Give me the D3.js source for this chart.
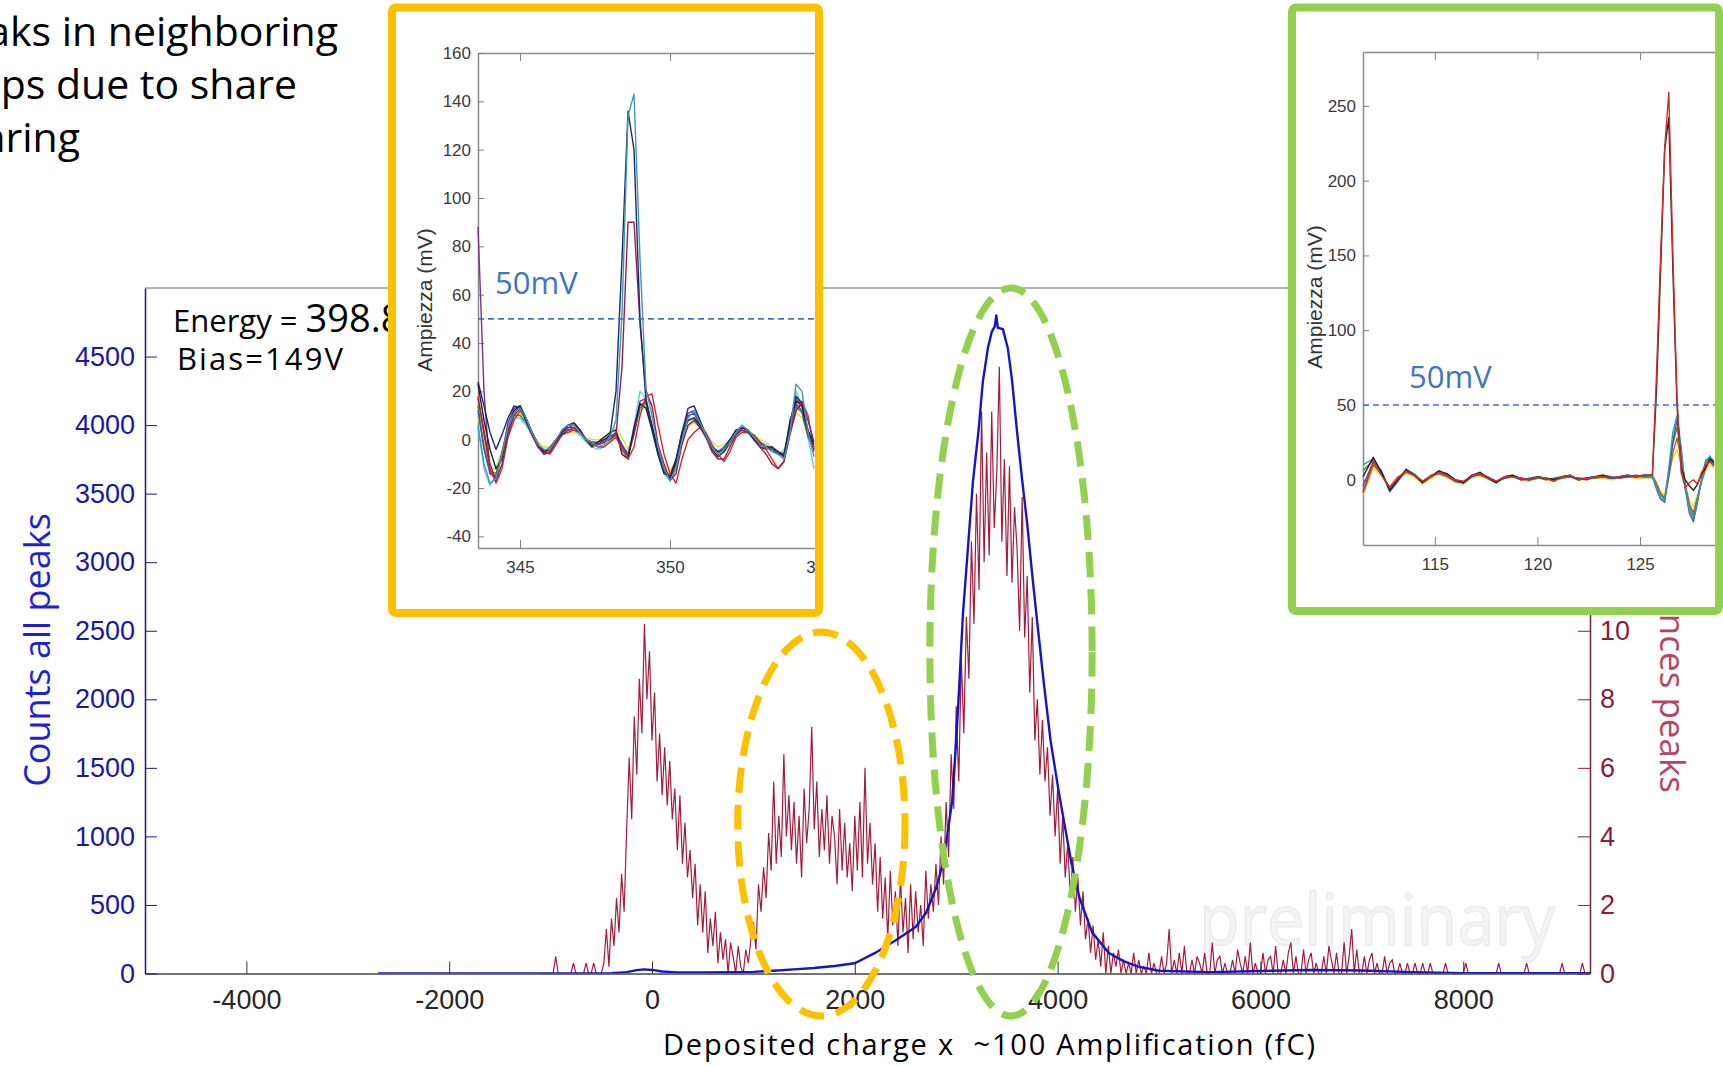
<!DOCTYPE html>
<html>
<head>
<meta charset="utf-8">
<title>Deposited charge spectrum</title>
<script src="https://cdn.jsdelivr.net/npm/d3@7"></script>
<style>
  body { margin: 0; background: #fff; overflow: hidden; }
  svg { display: block; }
</style>
</head>
<body>
<svg class="chart"></svg>
<script>

// ---- main spectrum data ----
var xTicks = [-4000, -2000, 0, 2000, 4000, 6000, 8000];
var leftTicks = [0, 500, 1000, 1500, 2000, 2500, 3000, 3500, 4000, 4500];
var rightTicks = [0, 2, 4, 6, 8, 10];

// blue curve: counts of all peaks (left axis)
var blueX = [-2700,-1000,-400,-250,-150,-80,0,100,250,500, 800,1000,1200,1400,1600,1800,2000,2200,2400,2600,
  2700,2800,2860,2900,2960,3000,3030,3066,3115,3165, 3220,3263,3312,3350,3380,3395,3410,3460,3509,3550,
  3600,3650,3700,3755,3808,3862,3930,4010,4084,4138, 4212,4340,4505,4650,4795,5000,5500,6000,6500,7000,
  7500,8000,9250];
var blueY = [0,0,2,10,25,30,26,15,8,8, 9,12,20,30,40,55,75,150,240,340,
  440,620,780,950,1260,1700,2100,2620,3100,3590, 3960,4320,4560,4680,4720,4800,4710,4700,4560,4330,
  3950,3600,3280,2870,2500,2130,1700,1330,1020,800, 560,300,150,90,50,20,10,18,26,22,
  10,3,2];

// red histogram: occurrences (right axis), bins of 25 starting at -1100
var redStart = -1100, redStep = 25;
var redCounts = [
  0,0,0,0, 0,0,0.5,0, 0,0,0,0, 0,0.3,0,0, 0,0,0.3,0, 0,0.3,0,0,
  0,0.3,1.3,0.2, 1.6,0.8,2.2,1.2, 2.9,1.8,4.2,6.3, 4.5,7.5,5.8,8.6, 7.0,10.2,8.0,9.4,
  6.8,8.2,5.6,7.0, 5.2,6.6,4.9,6.2, 4.5,5.4,3.6,5.2, 3.2,4.4,2.8,3.6, 2.2,3.2,1.4,2.6,
  1.2,2.4,0.6,1.6, 0.8,1.8,0.3,1.2, 0.4,1.0,0,0.9, 0.5,0,0.8,0.2, 0,0.7,0.3,1.0,
  1.5,0.7,2.6,1.8, 3.1,2.2,4.1,3.0, 5.6,3.2,4.6,3.4, 6.4,4.0,5.2,3.6, 5.0,3.2,4.6,2.8,
  5.4,3.8,4.8,7.2, 4.2,5.6,3.4,4.8, 3.6,5.2,3.2,4.6, 4.0,2.6,4.8,3.0, 4.4,2.8,3.8,2.4,
  4.6,3.0,5.0,2.8, 6.0,3.2,4.4,2.6, 3.8,1.8,3.4,1.6, 2.8,1.0,3.0,1.4, 2.4,0.8,2.8,1.2,
  2.2,0.6,2.6,1.0, 2.4,1.2,2.0,0.8, 3.0,1.6,2.6,1.8, 3.2,2.0,4.0,2.6, 5.0,3.4,6.4,4.8,
  7.8,5.6,9.2,7.0, 10.4,8.6,12.6,10.2, 14.0,11.2,16.4,12.0, 15.2,12.2,16.4,13.0, 14.6,17.7,12.6,15.0,
  11.6,14.8,11.4,13.6, 12.4,10.0,13.9,9.8, 11.6,8.2,10.4,6.8, 8.0,5.8,7.4,5.6, 6.6,4.6,5.8,4.0,
  5.4,3.2,4.6,2.8, 3.8,2.2,3.4,1.8, 2.8,1.4,2.4,1.0, 1.6,0.6,1.4,0.4, 1.0,0.2,1.2,0,
  0.8,0,0.6,0.2, 0.7,0,0.4,0, 0.3,0,0.6,0, 0.4,0,0.2,0, 0.6,0,0.3,0,
  0,0.5,0,0.3, 1.3,0,0.4,0, 0.6,0,0.8,0, 0,0.4,0,0.5, 0.3,0,0.6,0,
  0,0.9,0,0.4, 0.5,0,0.3,0, 0,0.4,0,0.7, 0.3,0,0.5,0, 0.9,0,0.3,0,
  0,0.6,0,0.4, 0.5,0,0.8,0, 0,0.4,0,0.6, 0.9,0,0.5,0, 0,0.7,0,0.4,
  0.6,0,0.3,0, 0,0.5,0,0.8, 0.4,0,0.6,0, 0,0.9,0,0.5, 1.3,0,0.7,0,
  0,0.5,0,0.4, 0.6,0,0.3,0, 0,0.5,0,0.3, 0.4,0,0,0.3, 0,0,0.3,0,
  0,0.3,0,0, 0.3,0,0,0.3, 0,0,0,0, 0,0.3,0,0, 0,0,0,0,
  0,0.3,0,0, 0,0,0,0, 0,0,0,0, 0,0,0.3,0, 0,0,0,0,
  0,0,0,0, 0,0.3,0,0, 0,0,0,0, 0,0,0,0, 0,0,0,0.3,
  0,0,0,0, 0,0,0,0.3, 0
];

// dashed ellipses drawn on the spectrum: [centre charge, half-width charge, centre counts, half-height counts]
var orangeEllipse = [1670, 825, 1090, 1400];
var greenEllipse = [3540, 800, 2345, 2655];

// ---- orange inset: waveforms around 348 ----
var orT = [343.6,343.8,344.0,344.2,344.4,344.6,344.8,345.0,345.2,345.4,
  345.6,345.8,346.0,346.2,346.4,346.6,346.8,347.0,347.2,347.4,
  347.6,347.8,348.0,348.2,348.4,348.6,348.8,349.0,349.2,349.4,
  349.6,349.8,350.0,350.2,350.4,350.6,350.8,351.0,351.2,351.4,
  351.6,351.8,352.0,352.2,352.4,352.6,352.8,353.0,353.2,353.4,
  353.6,353.8,354.0,354.2,354.4,354.6,354.8];
var orYellow = [10,-2,-12,-12,-4,4,9,11,8,3, -1,-3,-3,0,2,3,3,2,1,0, 0,1,3,5,1,-4,4,12,14,6,
  -3,-10,-13,-9,0,5,7,5,2,-1, -3,-2,0,3,4,4,2,0,-1,-3, -6,-4,4,11,9,2,-2];
var orCyan = [5,-12,-19,-15,-5,5,9,9,6,2, -3,-5,-4,-1,2,4,4,2,-1,-3, -4,-3,0,2,-2,-7,6,20,17,4,
  -6,-14,-17,-12,-1,6,8,5,1,-3, -5,-5,-2,2,4,3,1,-1,-2,-4, -6,-5,6,20,14,1,-12];
var orGreen = [14,-3,-13,-14,-6,4,10,10,7,2, -3,-5,-3,0,2,4,4,3,0,-1, -2,-1,1,2,-3,-6,3,13,15,5,
  -5,-12,-15,-10,1,8,9,6,1,-3, -5,-4,-1,2,4,3,1,-1,-3,-4, -5,-6,4,14,11,1,-3];
var orBlue = [12,-4,-14,-15,-6,5,11,13,8,3, -2,-5,-4,0,3,5,5,3,0,-2, -2,-1,1,3,-3,-7,2,14,16,5,
  -4,-13,-16,-10,2,10,11,6,1,-3, -5,-3,0,3,4,3,0,-2,-3,-4, -6,-6,5,15,12,2,-4];
var orPurple = [88,20,-14,-16,-6,7,13,14,9,3, -2,-5,-4,0,3,5,6,4,0,-2, -2,0,1,3,-2,-6,3,16,17,5,
  -4,-13,-16,-10,2,11,12,7,2,-3, -5,-4,0,3,5,4,1,-1,-3,-4, -5,-6,5,17,14,3,-5];
var orBlack = [23,8,-4,-12,-8,4,12,14,9,3, -2,-6,-5,-1,4,6,7,4,0,-3, -1,1,3,4,-6,-8,5,15,13,4,
  -6,-14,-15,-8,3,8,9,6,2,-4, -7,-5,-1,4,5,4,0,-3,-4,-3, -5,-7,8,16,14,3,-3];
var orRed = [18,2,-12,-18,-12,1,8,12,9,3, -2,-5,-6,-2,2,3,4,3,0,-2, -3,-3,-1,1,-4,-8,-3,10,18,19,
  6,-6,-14,-18,-8,0,3,5,3,-2, -6,-9,-5,1,3,3,2,-1,-4,-8, -12,-9,2,12,16,10,-4];
var orMaroon = [17,4,-10,-17,-10,2,10,13,8,2, -3,-6,-5,-1,2,4,5,3,0,-2, -2,-1,0,2,30,90,90,48,20,14,
  -2,-10,-17,-14,-2,6,8,5,1,-5, -8,-8,-3,2,4,3,1,-3,-6,-10, -12,-9,3,12,15,8,-1];
var orNavy = [24,14,3,-4,2,9,14,13,8,3, -2,-5,-4,0,3,6,6,4,0,-1, -1,0,2,20,75,136,120,50,16,6,
  -5,-13,-16,-9,3,13,14,8,2,-3, -5,-4,0,4,5,4,0,-2,-3,-3, -5,-7,6,18,15,4,-2];
var orTeal = [6,-10,-18,-16,-6,5,11,13,9,3, -2,-4,-4,0,4,6,6,3,0,-1, -3,-2,1,8,52,134,143,75,21,10,
  -3,-12,-17,-12,0,9,12,7,2,-3, -6,-4,-1,3,6,4,1,-2,-3,-5, -6,-8,3,23,20,3,-7];

// ---- green inset: waveforms around 126 ----
var grT = [111.5,112.0,112.4,112.8,113.2,113.6,114.0,114.4,114.8,115.2,
  115.6,116.0,116.4,116.8,117.2,117.6,118.0,118.4,118.8,119.2,
  119.6,120.0,120.4,120.8,121.2,121.6,122.0,122.4,122.8,123.2,
  123.6,124.0,124.4,124.8,125.2,125.6,125.8,126.0,126.2,126.4,
  126.6,126.8,127.0,127.2,127.4,127.6,127.8,128.0,128.2,128.4,128.6];
var grYellow = [-10,8,3,-6,1,4,2,-3,1,4, 2,-2,-3,1,3,0,-2,1,2,0, -1,1,0,-1,1,2,0,0,1,1,
  0,1,2,1,1,1,-3,-8,-10,4, 15,20,10,-4,-14,-18,-10,-2,6,10,8];
var grOrange = [-9,10,4,-5,2,5,3,-1,3,4, 2,-1,-2,3,3,1,-1,2,3,0, 0,1,1,0,2,2,1,1,2,2,
  1,2,2,2,3,3,-2,-9,-12,2, 18,28,14,-3,-16,-22,-12,-1,8,13,10];
var grGreen = [6,13,5,-6,0,6,3,-2,2,5, 3,0,-2,2,4,1,-1,2,2,1, 0,1,1,0,1,2,0,1,1,2,
  1,2,2,2,2,2,-4,-10,-13,6, 24,35,18,-4,-18,-24,-12,0,11,14,10];
var grBlue = [-4,12,6,-8,-1,6,4,-1,2,6, 3,-1,-2,2,4,2,-1,1,2,0, 1,2,0,1,2,2,1,0,2,3,
  2,1,2,3,2,2,-6,-13,-15,4, 26,40,20,-6,-22,-28,-15,1,13,15,11];
var grTeal = [10,14,4,-6,0,7,4,-2,2,5, 4,0,-2,3,5,1,-2,2,3,1, 0,2,1,0,2,3,0,1,2,2,
  1,2,3,2,3,2,-5,-12,-14,8, 32,43,22,-5,-20,-26,-14,0,12,16,12];
var grBlack = [2,15,5,-7,0,7,3,-2,2,6, 4,0,-2,3,5,1,-2,2,3,1, 0,2,1,0,2,3,0,1,2,3,
  1,2,3,2,3,3,60,140,221,242, 140,50,8,0,-4,-7,-3,4,8,14,12];
var grRed = [-8,12,3,-5,1,6,3,-1,2,5, 3,0,-1,3,4,1,-1,2,2,1, 0,2,1,-1,2,3,0,1,2,2,
  1,2,3,2,3,3,70,150,222,259, 150,55,5,-5,-2,0,-3,5,10,12,9];

var threshold = 50;

// ---- layout ----
var width = 1723, height = 1066;
var plot = {left: 145, right: 1590, top: 288, bottom: 973.5};

var svg = d3.select(".chart")
  .attr("width", width)
  .attr("height", height);
var defs = svg.append("defs");

var x = d3.scaleLinear().domain([-5000, 9250]).range([plot.left, plot.right]);
var yL = d3.scaleLinear().domain([0, 5000]).range([plot.bottom, plot.top]);
var yR = d3.scaleLinear().domain([0, 20]).range([plot.bottom, plot.top]);

// slide text cut by the left edge
var slideLines = ["aks in neighboring", "ps due to share", "aring"];
var slideEnds = [338, 297, 80];
svg.selectAll("text.slide")
  .data(slideLines)
 .enter().append("text")
  .attr("class", "slide")
  .attr("x", function(d, i) { return slideEnds[i]; })
  .attr("y", function(d, i) { return 46 + i * 53; })
  .attr("text-anchor", "end")
  .attr("font-family", "'Open Sans', sans-serif")
  .attr("font-size", 41)
  .attr("fill", "#000")
  .text(function(d) { return d; });

// top frame line
svg.append("line")
  .attr("x1", plot.left).attr("x2", plot.right)
  .attr("y1", plot.top).attr("y2", plot.top)
  .attr("stroke", "#9a9a9a").attr("stroke-width", 1.5);

// watermark
svg.append("text")
  .attr("x", 1199).attr("y", 945)
  .attr("font-family", "'Open Sans', sans-serif")
  .attr("font-size", 72)
  .attr("textLength", 356).attr("lengthAdjust", "spacingAndGlyphs")
  .attr("fill", "#f4f4f4").attr("stroke", "#ebebeb").attr("stroke-width", 1.5)
  .text("preliminary");

defs.append("clipPath").attr("id", "main-clip")
 .append("rect")
  .attr("x", plot.left).attr("y", plot.top)
  .attr("width", plot.right - plot.left).attr("height", plot.bottom - plot.top);

var data = svg.append("g").attr("clip-path", "url(#main-clip)");

var redLine = d3.line()
  .x(function(d, i) { return x(redStart + i * redStep); })
  .y(function(d) { return yR(d); });
data.append("path")
  .datum(redCounts)
  .attr("d", redLine)
  .attr("fill", "none")
  .attr("stroke", "#a31c3a")
  .attr("stroke-width", 1.2);

var blueLine = d3.line()
  .x(function(d, i) { return x(blueX[i]); })
  .y(function(d) { return yL(d); });
data.append("path")
  .datum(blueY)
  .attr("d", blueLine)
  .attr("fill", "none")
  .attr("stroke", "#1616c0")
  .attr("stroke-width", 2.4)
  .attr("stroke-linejoin", "round");

// axes
var tickFont = "'Liberation Sans', Arial, sans-serif";
var plain = function(d) { return String(d); };

var xAxis = d3.axisBottom(x).tickValues(xTicks).tickFormat(plain)
  .tickSize(-12).tickSizeOuter(0).tickPadding(16);
var gx = svg.append("g")
  .attr("transform", "translate(0," + plot.bottom + ")")
  .call(xAxis);
gx.selectAll("text").attr("font-family", tickFont).attr("font-size", 27).attr("fill", "#262626");
gx.selectAll("line").attr("stroke", "#333");
gx.select(".domain").attr("stroke", "#444").attr("stroke-width", 1.5);

var yAxisL = d3.axisLeft(yL).tickValues(leftTicks).tickFormat(plain)
  .tickSize(-12).tickSizeOuter(0).tickPadding(10);
var gyl = svg.append("g")
  .attr("transform", "translate(" + plot.left + ",0)")
  .call(yAxisL);
gyl.selectAll("text").attr("font-family", tickFont).attr("font-size", 27).attr("fill", "#1717a8");
gyl.selectAll("line").attr("stroke", "#1a1a80");
gyl.select(".domain").attr("stroke", "#1a1a80").attr("stroke-width", 1.5);

var yAxisR = d3.axisRight(yR).tickValues(rightTicks).tickFormat(plain)
  .tickSize(-12).tickSizeOuter(0).tickPadding(10);
var gyr = svg.append("g")
  .attr("transform", "translate(" + plot.right + ",0)")
  .call(yAxisR);
gyr.selectAll("text").attr("font-family", tickFont).attr("font-size", 27).attr("fill", "#8a1c3c");
gyr.selectAll("line").attr("stroke", "#7a2040");
gyr.select(".domain").attr("stroke", "#7a2040").attr("stroke-width", 1.5);

// axis labels
svg.append("text")
  .attr("transform", "translate(50,650) rotate(-90)")
  .attr("text-anchor", "middle")
  .attr("font-family", "'Open Sans', sans-serif")
  .attr("font-size", 36)
  .attr("fill", "#1f1fd4")
  .text("Counts all peaks");

svg.append("text")
  .attr("transform", "translate(1660,793) rotate(90)")
  .attr("text-anchor", "end")
  .attr("font-family", "'Open Sans', sans-serif")
  .attr("font-size", 35)
  .attr("fill", "#b4465f")
  .text("Occurrences peaks");

svg.append("text")
  .attr("x", 989).attr("y", 1055)
  .attr("text-anchor", "middle")
  .attr("font-family", "'Open Sans', sans-serif")
  .attr("font-size", 29)
  .attr("textLength", 652)
  .attr("fill", "#000")
  .style("white-space", "pre")
  .text("Deposited charge x  ~100 Amplification (fC)");

// run info
var info = svg.append("text")
  .attr("x", 173).attr("y", 332)
  .attr("font-family", "'Open Sans', sans-serif")
  .attr("fill", "#000");
info.append("tspan").attr("font-size", 31).text("Energy = ");
info.append("tspan").attr("font-size", 38).text("398.8");
svg.append("text")
  .attr("x", 177).attr("y", 370)
  .attr("font-family", "'Open Sans', sans-serif")
  .attr("font-size", 31)
  .attr("textLength", 166)
  .attr("fill", "#000")
  .text("Bias=149V");

// dashed ellipses
[[orangeEllipse, "#FFC000"], [greenEllipse, "#92D050"]].forEach(function(e) {
  var d = e[0];
  svg.append("ellipse")
    .attr("cx", x(d[0]))
    .attr("rx", x(d[0] + d[1]) - x(d[0]))
    .attr("cy", yL(d[2]))
    .attr("ry", yL(0) - yL(d[3]))
    .attr("fill", "none")
    .attr("stroke", e[1])
    .attr("stroke-width", 7)
    .attr("stroke-dasharray", "25,12");
});

// ---- insets ----
function drawInset(cfg) {
  var bx = cfg.box;
  var g = svg.append("g");
  g.append("rect")
    .attr("x", bx[0]).attr("y", bx[1])
    .attr("width", bx[2] - bx[0]).attr("height", bx[3] - bx[1])
    .attr("fill", "#fff");

  defs.append("clipPath").attr("id", cfg.id)
   .append("rect")
    .attr("x", bx[0] + 4).attr("y", bx[1] + 4)
    .attr("width", bx[2] - bx[0] - 8).attr("height", bx[3] - bx[1] - 8);
  var inner = g.append("g").attr("clip-path", "url(#" + cfg.id + ")");

  var xs = d3.scaleLinear().domain(cfg.xDomain).range([cfg.plot.left, cfg.plot.right]);
  var ys = d3.scaleLinear().domain(cfg.yDomain).range([cfg.plot.bottom, cfg.plot.top]);

  var ax = inner.append("g")
    .attr("transform", "translate(0," + cfg.plot.bottom + ")")
    .call(d3.axisBottom(xs).tickValues(cfg.xTicks).tickSize(-8).tickSizeOuter(0).tickPadding(13));
  var at = inner.append("g")
    .attr("transform", "translate(0," + cfg.plot.top + ")")
    .call(d3.axisTop(xs).tickValues(cfg.xTicks).tickSize(-8).tickSizeOuter(0).tickFormat(""));
  var ay = inner.append("g")
    .attr("transform", "translate(" + cfg.plot.left + ",0)")
    .call(d3.axisLeft(ys).tickValues(cfg.yTicks).tickSize(-6).tickSizeOuter(0).tickPadding(7)
      .tickFormat(plain));
  [ax, at, ay].forEach(function(a) {
    a.selectAll("text").attr("font-family", tickFont).attr("font-size", 17).attr("fill", "#3a3a3a");
    a.selectAll("line").attr("stroke", "#808080");
    a.select(".domain").attr("stroke", "#8a8a8a").attr("stroke-width", 1.5);
  });

  inner.append("text")
    .attr("transform", "translate(" + cfg.labelX + "," + cfg.labelY + ") rotate(-90)")
    .attr("text-anchor", "middle")
    .attr("font-family", tickFont)
    .attr("font-size", 21)
    .attr("fill", "#333")
    .text("Ampiezza (mV)");

  var line = d3.line()
    .x(function(d, i) { return xs(cfg.t[i]); })
    .y(function(d) { return ys(d); });
  cfg.series.forEach(function(s) {
    inner.append("path")
      .datum(s[0])
      .attr("d", line)
      .attr("fill", "none")
      .attr("stroke", s[1])
      .attr("stroke-width", 1.4)
      .attr("stroke-linejoin", "round");
  });

  inner.append("line")
    .attr("x1", cfg.plot.left).attr("x2", bx[2])
    .attr("y1", ys(threshold)).attr("y2", ys(threshold))
    .attr("stroke", "#4472C4").attr("stroke-width", 1.6)
    .attr("stroke-dasharray", "6,4");

  inner.append("text")
    .attr("x", cfg.thrX).attr("y", cfg.thrY)
    .attr("font-family", "'Open Sans', sans-serif")
    .attr("font-size", 31)
    .attr("fill", "#4472C4")
    .text(threshold + "mV");

  g.append("rect")
    .attr("x", bx[0]).attr("y", bx[1])
    .attr("width", bx[2] - bx[0]).attr("height", bx[3] - bx[1])
    .attr("rx", 4)
    .attr("fill", "none")
    .attr("stroke", cfg.color)
    .attr("stroke-width", 8);
}

drawInset({
  id: "orange-clip",
  box: [392, 7.5, 819, 613],
  color: "#FFC000",
  plot: {left: 478, right: 815.5, top: 53, bottom: 548},
  xDomain: [343.6, 354.85],
  yDomain: [-44.8, 160],
  xTicks: [345, 350, 355],
  yTicks: [-40, -20, 0, 20, 40, 60, 80, 100, 120, 140, 160],
  labelX: 432, labelY: 300,
  thrX: 495, thrY: 294,
  t: orT,
  series: [[orYellow, "#e4dc3a"], [orCyan, "#6ccbe0"], [orGreen, "#3f8f3f"], [orBlue, "#2a5cb8"],
    [orPurple, "#7e2f8e"], [orBlack, "#222222"], [orRed, "#d62a2a"], [orMaroon, "#9b1d4c"],
    [orNavy, "#1d2a6e"], [orTeal, "#3b9ab2"]]
});

drawInset({
  id: "green-clip",
  box: [1292, 7.5, 1719, 611],
  color: "#92D050",
  plot: {left: 1363, right: 1716, top: 52, bottom: 545},
  xDomain: [111.5, 128.7],
  yDomain: [-43.6, 286],
  xTicks: [115, 120, 125],
  yTicks: [0, 50, 100, 150, 200, 250],
  labelX: 1322, labelY: 297,
  thrX: 1409, thrY: 388,
  t: grT,
  series: [[grYellow, "#e4dc3a"], [grOrange, "#d95319"], [grGreen, "#3f8f3f"], [grBlue, "#2a5cb8"],
    [grTeal, "#3b9ab2"], [grBlack, "#222222"], [grRed, "#d62a2a"]]
});

</script>
</body>
</html>
